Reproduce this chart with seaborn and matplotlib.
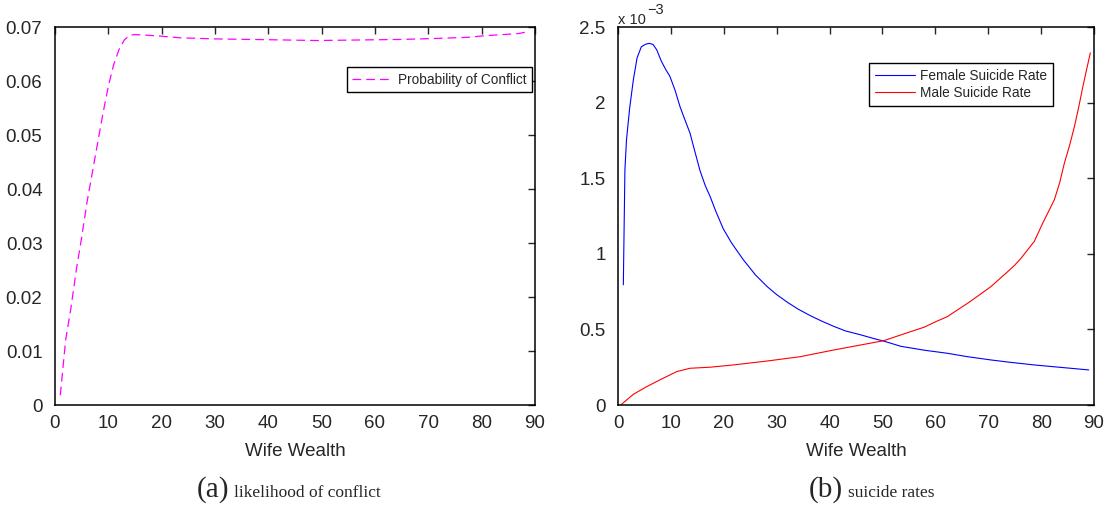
import numpy as np
import pandas as pd
import matplotlib
matplotlib.use("Agg")
import matplotlib.pyplot as plt
from matplotlib.ticker import FuncFormatter
import seaborn as sns

# (a) probability of conflict vs wife wealth
conflict_x = [1, 2, 3, 4, 5, 6, 7, 8, 9, 10, 11, 12, 13, 14, 15, 17, 20, 23.5, 30, 36.7,
              43, 49.2, 57, 65, 72, 77.5, 80.7, 84, 87, 89]
conflict_p = [0.0018, 0.012, 0.018, 0.025, 0.031, 0.0375, 0.043, 0.0485, 0.054, 0.059,
              0.063, 0.0658, 0.0676, 0.0685, 0.0686, 0.0685, 0.0683, 0.0680, 0.0678, 0.0677,
              0.0676, 0.0675, 0.0676, 0.0677, 0.0679, 0.0681, 0.0684, 0.0686, 0.0688, 0.0692]

# (b) suicide rates (units of 1e-3)
female_x = [1, 1.3, 1.6, 2.2, 2.9, 3.6, 4.4, 5.2, 5.9, 6.6, 7.3, 8.2, 9, 9.8, 10.8, 11.7,
            12.6, 13.6, 14.5, 15.5, 16.5, 17.4, 18.5, 19.9, 21.5, 23.7, 26, 28.2, 30, 32,
            34, 36.4, 38.5, 40.8, 43, 45.9, 48, 50.3, 53.5, 58, 62.3, 66, 70.5, 74, 78.7,
            84, 89]
female_rate = [0.795, 1.556, 1.755, 1.965, 2.152, 2.296, 2.369, 2.386, 2.392, 2.385, 2.350,
               2.273, 2.220, 2.174, 2.08, 1.975, 1.89, 1.799, 1.68, 1.55, 1.45, 1.38, 1.28,
               1.165, 1.07, 0.96, 0.86, 0.783, 0.73, 0.68, 0.635, 0.59, 0.555, 0.52, 0.49,
               0.464, 0.443, 0.422, 0.388, 0.362, 0.342, 0.32, 0.298, 0.283, 0.265, 0.248,
               0.232]

male_x = [0.5, 2.9, 5.4, 7.9, 11.1, 13.6, 17.4, 21.8, 28.2, 34.5, 40.8, 47.1, 50.3, 53.5,
          57.9, 60, 62.3, 64, 66.1, 68, 70.5, 72, 73.7, 75, 76.2, 78.7, 80.3, 81.4, 82.5,
          83.5, 84.4, 85.4, 86.3, 87.1, 87.9, 88.6, 89.3]
male_rate = [0.0, 0.071, 0.121, 0.166, 0.221, 0.243, 0.250, 0.265, 0.291, 0.320, 0.364,
             0.405, 0.426, 0.464, 0.515, 0.55, 0.585, 0.625, 0.673, 0.72, 0.783, 0.83, 0.883,
             0.925, 0.971, 1.082, 1.203, 1.28, 1.358, 1.47, 1.601, 1.72, 1.843, 1.97, 2.108,
             2.22, 2.329]

sns.set_style("white")
plt.rcParams['font.family'] = ['Liberation Sans', 'DejaVu Sans']

fig = plt.figure(figsize=(11.08, 5.05), dpi=100)
ax1 = fig.add_axes([0.0496, 0.198, 0.4332, 0.7485])
ax2 = fig.add_axes([0.5578, 0.198, 0.4296, 0.7485])

sns.lineplot(x=conflict_x, y=conflict_p, ax=ax1, color='#ff00ff', lw=0.9,
             linestyle=(0, (7, 4)), label='Probability of Conflict')
sns.lineplot(x=female_x, y=female_rate, ax=ax2, color='#0000ff', lw=0.8,
             label='Female Suicide Rate')
sns.lineplot(x=male_x, y=male_rate, ax=ax2, color='#ff0000', lw=0.8,
             label='Male Suicide Rate')

ax1.set_xlim(0, 90)
ax1.set_ylim(0, 0.07)
ax1.set_yticks(np.arange(0, 0.0701, 0.01))
ax2.set_xlim(0, 90)
ax2.set_ylim(0, 2.5)
ax2.set_yticks(np.arange(0, 2.51, 0.5))

fmt = FuncFormatter(lambda v, p: '%g' % round(v, 6))
for ax in (ax1, ax2):
    ax.set_xticks(np.arange(0, 91, 10))
    ax.yaxis.set_major_formatter(fmt)
    ax.tick_params(direction='in', top=True, right=True, length=5, width=1,
                   labelsize=13.5, pad=7)
    ax.tick_params(axis='y', pad=9)
    for s in ax.spines.values():
        s.set_linewidth(1.1)
        s.set_color('black')
    ax.set_xlabel('Wife Wealth', fontsize=13.5, labelpad=8)
    ax.set_ylabel('')

leg1 = ax1.legend(loc='upper right', bbox_to_anchor=(0.993, 0.893), fontsize=9.8,
                  handlelength=3.0, handletextpad=0.35, borderpad=0.4, borderaxespad=0,
                  fancybox=False, framealpha=1, edgecolor='black')
leg2 = ax2.legend(loc='upper right', bbox_to_anchor=(0.913, 0.904), fontsize=9.8,
                  handlelength=3.0, handletextpad=0.35, borderpad=0.4, borderaxespad=0,
                  labelspacing=0.25, fancybox=False, framealpha=1, edgecolor='black')
for leg in (leg1, leg2):
    leg.get_frame().set_linewidth(1.0)

# MATLAB-style exponent label above the right axis
ax2.text(0.0, 1.008, 'x 10', transform=ax2.transAxes, fontsize=10.5,
         ha='left', va='baseline')
ax2.text(0.061, 1.034, '\u22123', transform=ax2.transAxes, fontsize=10.5,
         ha='left', va='baseline')

serif = ['Liberation Serif', 'DejaVu Serif']
fig.text(229 / 1108, 0.016, '(a)', fontsize=21, family=serif, ha='right', va='baseline')
fig.text(234 / 1108, 0.016, 'likelihood of conflict', fontsize=12.5, family=serif,
         ha='left', va='baseline')
fig.text(843 / 1108, 0.016, '(b)', fontsize=21, family=serif, ha='right', va='baseline')
fig.text(848 / 1108, 0.016, 'suicide rates', fontsize=12.5, family=serif,
         ha='left', va='baseline')

fig.savefig('out.png', dpi=100)
